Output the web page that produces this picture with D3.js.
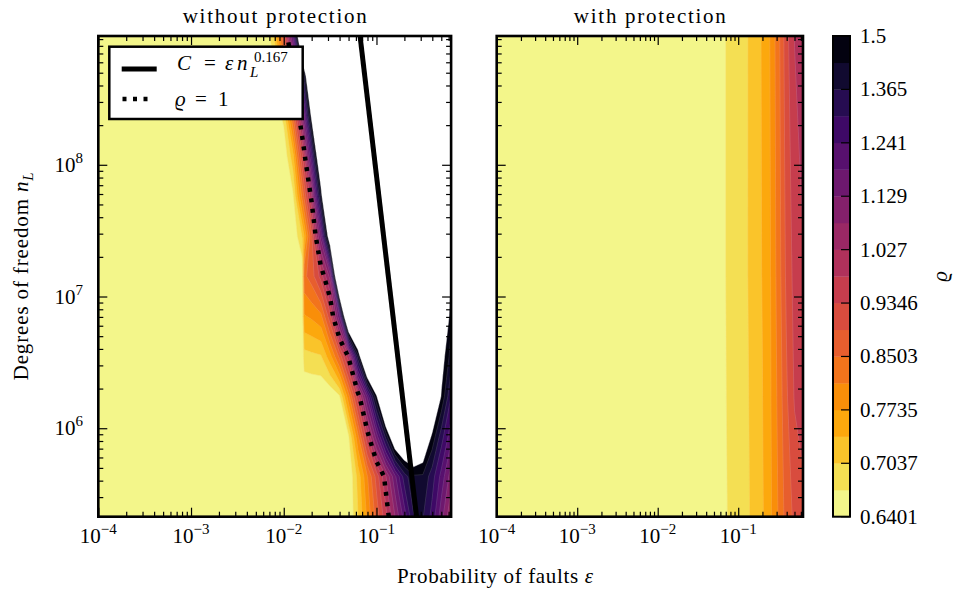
<!DOCTYPE html>
<html>
<head>
<meta charset="utf-8">
<script src="https://cdn.jsdelivr.net/npm/d3@7"></script>
<style>
  body { margin: 0; background: #fff; }
  text { font-family: "Liberation Serif", "DejaVu Serif", serif; fill: #000; }
</style>
</head>
<body>
<div id="canvas"></div>
<script>
"use strict"

/* Figure size */
let svgWidth = 953;
let svgHeight = 589;

/* Panel boxes in pixels */
let panelTop = 36;
let panelBottom = 516.7;
let leftPanel = { x0: 98.3, x1: 451.1 };
let rightPanel = { x0: 496.7, x1: 803.0 };
let cbBox = { x0: 833, x1: 850 };

/* Axis extents */
let epsExtent = [1e-4, 0.638];
let nLExtent = [2.13e5, 9.5e8];

/* Contour levels of rho (as on the colour bar) */
let rhoLevels = [0.6401, 0.6711, 0.7037, 0.7378, 0.7735, 0.8110, 0.8503, 0.8915, 0.9346,
    0.9800, 1.027, 1.0773, 1.129, 1.1842, 1.241, 1.3018, 1.365, 1.4310, 1.5];
let cbTickLabels = ["0.6401", "0.7037", "0.7735", "0.8503", "0.9346",
    "1.027", "1.129", "1.241", "1.365", "1.5"];

/* Without protection: sampled grid (columns = eps, rows = nL) */
let epsLeft = [0.0001, 0.005012, 0.00631, 0.007943, 0.01, 0.01259, 0.01585, 0.0166,
    0.01995, 0.02512, 0.03162, 0.03981, 0.05012, 0.0631, 0.07943, 0.1, 0.1259, 0.1585,
    0.1995, 0.2512, 0.3162, 0.3981, 0.5012, 0.638];
let nLLeft = [2.13e5, 4.30e5, 8.65e5, 1.74e6, 3.51e6, 7.08e6, 1.425e7, 2.87e7, 5.78e7,
    1.165e8, 2.35e8, 4.72e8, 9.5e8];
let rhoLeft = [
    [.6401, .6401, .6401, .6401, .6401, .6401, .6401, .6401, .6401, .6401, .6401, .6401, .6401, .702, .780, .866, .963, 1.077, 1.207, 1.36, 1.37, 1.28, 1.15, 1.03],
    [.6401, .6401, .6401, .6401, .6401, .6401, .6401, .6401, .6401, .6401, .6401, .6401, .6401, .715, .806, .907, 1.021, 1.17, 1.33, 1.42, 1.42, 1.33, 1.22, 1.10],
    [.6401, .6401, .6401, .6401, .6401, .6401, .6401, .6401, .6401, .6401, .6401, .6401, .668, .801, .965, 1.154, 1.381, 1.652, 1.75, 1.75, 1.65, 1.48, 1.33, 1.2],
    [.6401, .6401, .6401, .6401, .6401, .6401, .6401, .6401, .6401, .6401, .6401, .665, .797, .961, 1.187, 1.482, 1.85, 2.0, 2.0, 2.0, 2.0, 1.7, 1.49, 1.3],
    [.6401, .6401, .6401, .6401, .6401, .6401, .6401, .69, .695, .70, .76, .86, 1.01, 1.40, 1.85, 2.0, 2.0, 2.0, 2.0, 2.0, 2.0, 1.9, 1.55, 1.4],
    [.6401, .6401, .6401, .6401, .6401, .6401, .6401, .77, .78, .80, .92, 1.17, 1.82, 2.0, 2.0, 2.0, 2.0, 2.0, 2.0, 2.0, 2.0, 2.0, 1.7, 1.45],
    [.6401, .6401, .6401, .6401, .6401, .6401, .6401, .84, .87, .95, 1.095, 1.85, 2.0, 2.0, 2.0, 2.0, 2.0, 2.0, 2.0, 2.0, 2.0, 2.0, 1.9, 1.49],
    [.6401, .6401, .6401, .6401, .6401, .6401, .7066, .739, .879, 1.15, 1.62, 2.0, 2.0, 2.0, 2.0, 2.0, 2.0, 2.0, 2.0, 2.0, 2.0, 2.0, 2.0, 1.515],
    [.6401, .6401, .6401, .6401, .6401, .665, .823, .858, 1.018, 1.435, 2.0, 2.0, 2.0, 2.0, 2.0, 2.0, 2.0, 2.0, 2.0, 2.0, 2.0, 2.0, 2.0, 1.8],
    [.6401, .6401, .6401, .6401, .6401, .727, .926, .974, 1.246, 1.706, 2.0, 2.0, 2.0, 2.0, 2.0, 2.0, 2.0, 2.0, 2.0, 2.0, 2.0, 2.0, 2.0, 1.8],
    [.6401, .6401, .6401, .6401, .682, .848, 1.084, 1.163, 1.528, 2.0, 2.0, 2.0, 2.0, 2.0, 2.0, 2.0, 2.0, 2.0, 2.0, 2.0, 2.0, 2.0, 2.0, 1.7],
    [.6401, .6401, .6401, .6401, .767, .954, 1.304, 1.398, 1.84, 2.0, 2.0, 2.0, 2.0, 2.0, 2.0, 2.0, 2.0, 2.0, 2.0, 2.0, 2.0, 2.0, 1.9, 1.6],
    [.6401, .6401, .6401, .7116, .883, 1.197, 1.813, 1.97, 2.0, 2.0, 2.0, 2.0, 2.0, 2.0, 2.0, 2.0, 2.0, 2.0, 2.0, 2.0, 2.0, 2.0, 1.8, 1.45]
];

/* With protection: sampled grid */
let epsRight = [0.0001, 0.0501, 0.0631, 0.0794, 0.1, 0.1259, 0.1585, 0.1995, 0.2512,
    0.3162, 0.3981, 0.5012, 0.638];
let nLRight = [2.13e5, 1.74e6, 1.425e7, 9.5e8];
let rhoRight = [
    [.6401, .645, .662, .6759, .6867, .6974, .7124, .7336, .7664, .8141, .8676, .9014, .92],
    [.6401, .645, .664, .6775, .688, .6986, .715, .7365, .770, .8216, .8849, .9392, .955],
    [.6401, .645, .665, .6786, .6893, .7005, .7172, .7396, .7724, .8291, .901, .9501, .978],
    [.6401, .645, .665, .6786, .6893, .7000, .7182, .7415, .7761, .8369, .9183, .9815, .99]
];

/* Scaling law  C = eps * nL^0.167 */
let lawC = 2.1;
let lawExp = 0.167;

/* Tick powers */
let xTickPowers = [-4, -3, -2, -1];
let yTickPowers = [6, 7, 8];

/* Create the drawing canvas */
let svg = d3.select("#canvas")
    .append("svg")
    .attr("width", svgWidth)
    .attr("height", svgHeight);

let nBands = rhoLevels.length - 1;
function bandColor(i) {
    return d3.interpolateInferno(1 - (i + 0.5) / nBands);
}

function isMajor(d) {
    let l = Math.log10(d);
    return Math.abs(l - Math.round(l)) < 1e-9;
}

function addPow(text, p, supSize, rise) {
    text.append("tspan").text("10");
    text.append("tspan")
        .attr("dy", -rise)
        .style("font-size", supSize + "px")
        .text(p < 0 ? "\u2212" + Math.abs(p) : String(p));
}

/* Draw a filled contour panel, return its scales */
function drawPanel(panel, eps, nL, rho, id) {
    let x = d3.scaleLog().domain(epsExtent).range([panel.x0, panel.x1]);
    let y = d3.scaleLog().domain(nLExtent).range([panelBottom, panelTop]);
    let nc = eps.length;
    let nr = nL.length;

    // grid index -> pixel, piecewise between sampled nodes
    let colPx = d3.scaleLinear().domain(d3.range(nc)).range(eps.map(d => x(d))).clamp(true);
    let rowPx = d3.scaleLinear().domain(d3.range(nr)).range(nL.map(d => y(d))).clamp(true);

    let path = d3.geoPath(d3.geoTransform({
        point: function (gx, gy) {
            this.stream.point(colPx(gx - 0.5), rowPx(gy - 0.5));
        }
    }));

    svg.append("clipPath").attr("id", id)
        .append("rect")
        .attr("x", panel.x0).attr("y", panelTop)
        .attr("width", panel.x1 - panel.x0)
        .attr("height", panelBottom - panelTop);

    let g = svg.append("g").attr("clip-path", "url(#" + id + ")");

    let contours = d3.contours()
        .size([nc, nr])
        .thresholds(rhoLevels)(rho.flat());

    g.selectAll("path.band")
        .data(contours)
        .join("path")
        .attr("class", "band")
        .attr("d", path)
        .attr("fill", (d, i) => i < nBands ? bandColor(i) : "#fff")
        .attr("stroke", (d, i) => i < nBands ? bandColor(i) : "#fff")
        .attr("stroke-width", 0.4);

    // faint seams between the filled bands
    g.selectAll("path.seam")
        .data(contours.slice(1, nBands))
        .join("path")
        .attr("class", "seam")
        .attr("d", path)
        .attr("fill", "none")
        .attr("stroke", "#fff")
        .attr("stroke-opacity", 0.22)
        .attr("stroke-width", 0.6);

    return { x: x, y: y, g: g, nc: nc, nr: nr, colPx: colPx, rowPx: rowPx };
}

/* Contour line without the parts that run along the frame */
function isoPath(geom, p) {
    let d = "";
    geom.coordinates.forEach(function (polygon) {
        polygon.forEach(function (ring) {
            let pts = ring.map(function (q) {
                return [Math.max(0, Math.min(p.nc - 1, q[0] - 0.5)),
                        Math.max(0, Math.min(p.nr - 1, q[1] - 0.5))];
            });
            let open = false;
            for (let i = 0; i < pts.length - 1; i++) {
                let a = pts[i], b = pts[i + 1];
                let border = (a[0] === 0 && b[0] === 0) || (a[0] === p.nc - 1 && b[0] === p.nc - 1) ||
                    (a[1] === 0 && b[1] === 0) || (a[1] === p.nr - 1 && b[1] === p.nr - 1);
                if (border) { open = false; continue; }
                if (!open) {
                    d += "M" + p.colPx(a[0]) + "," + p.rowPx(a[1]);
                    open = true;
                }
                d += "L" + p.colPx(b[0]) + "," + p.rowPx(b[1]);
            }
        });
    });
    return d;
}

/* Ticks on all four sides, pointing inward */
function drawFrame(panel, p) {
    let xMajor = p.x.ticks().filter(isMajor);
    let xMinor = p.x.ticks().filter(d => !isMajor(d));
    let yMajor = p.y.ticks().filter(isMajor);
    let yMinor = p.y.ticks().filter(d => !isMajor(d));

    let axes = [
        [d3.axisBottom(p.x), "translate(0," + panelBottom + ")", xMajor, xMinor],
        [d3.axisTop(p.x), "translate(0," + panelTop + ")", xMajor, xMinor],
        [d3.axisLeft(p.y), "translate(" + panel.x0 + ",0)", yMajor, yMinor],
        [d3.axisRight(p.y), "translate(" + panel.x1 + ",0)", yMajor, yMinor]
    ];
    axes.forEach(function (a) {
        [[a[2], -9], [a[3], -5]].forEach(function (set) {
            svg.append("g")
                .attr("transform", a[1])
                .call(a[0].tickValues(set[0]).tickSize(set[1]).tickFormat(""))
                .call(s => s.select(".domain").remove())
                .selectAll("line")
                .attr("stroke", "#000")
                .attr("stroke-width", 1.2);
        });
    });

    svg.append("rect")
        .attr("x", panel.x0).attr("y", panelTop)
        .attr("width", panel.x1 - panel.x0)
        .attr("height", panelBottom - panelTop)
        .attr("fill", "none")
        .attr("stroke", "#000")
        .attr("stroke-width", 2.6);

    // x tick labels
    xTickPowers.forEach(function (pw) {
        let t = svg.append("text")
            .attr("x", p.x(Math.pow(10, pw)))
            .attr("y", 543)
            .attr("text-anchor", "middle")
            .style("font-size", "21px");
        addPow(t, pw, 15, 9);
    });
}

/**** without protection ****/
let pL = drawPanel(leftPanel, epsLeft, nLLeft, rhoLeft, "clipL");

// scaling law line
let lawPts = nLExtent.map(n => [lawC / Math.pow(n, lawExp), n]);
pL.g.append("path")
    .attr("d", d3.line().x(d => pL.x(d[0])).y(d => pL.y(d[1]))(lawPts))
    .attr("fill", "none")
    .attr("stroke", "#000")
    .attr("stroke-width", 5);

// rho = 1 contour, dotted
let rhoOne = d3.contours().size([pL.nc, pL.nr]).thresholds([1])(rhoLeft.flat())[0];
pL.g.append("path")
    .attr("d", isoPath(rhoOne, pL))
    .attr("fill", "none")
    .attr("stroke", "#000")
    .attr("stroke-width", 4.5)
    .attr("stroke-dasharray", "4,6.5");

drawFrame(leftPanel, pL);

/**** with protection ****/
let pR = drawPanel(rightPanel, epsRight, nLRight, rhoRight, "clipR");
drawFrame(rightPanel, pR);

/**** y tick labels (left panel only) ****/
yTickPowers.forEach(function (pw) {
    let t = svg.append("text")
        .attr("x", 83)
        .attr("y", pL.y(Math.pow(10, pw)) + 7)
        .attr("text-anchor", "end")
        .style("font-size", "21px");
    addPow(t, pw, 15, 9);
});

/**** legend ****/
let lg = svg.append("g");
lg.append("rect")
    .attr("x", 109.3).attr("y", 46.7)
    .attr("width", 193.4).attr("height", 72.3)
    .attr("fill", "#fff")
    .attr("stroke", "#000")
    .attr("stroke-width", 2.5);
lg.append("line")
    .attr("x1", 121.7).attr("x2", 156.7)
    .attr("y1", 69).attr("y2", 69)
    .attr("stroke", "#000").attr("stroke-width", 5);
lg.append("line")
    .attr("x1", 122.5).attr("x2", 150)
    .attr("y1", 99).attr("y2", 99)
    .attr("stroke", "#000").attr("stroke-width", 4.5)
    .attr("stroke-dasharray", "4,6.5");

let lt1 = lg.append("text").attr("y", 70).style("font-size", "21px");
lt1.append("tspan").attr("x", 177).style("font-style", "italic").text("C");
lt1.append("tspan").attr("x", 204).text("=");
lt1.append("tspan").attr("x", 225).style("font-style", "italic").text("\u03b5");
lt1.append("tspan").attr("x", 237).style("font-style", "italic").text("n");
lt1.append("tspan").attr("x", 250).attr("y", 77).style("font-size", "15px").style("font-style", "italic").text("L");
lt1.append("tspan").attr("x", 254).attr("y", 62).style("font-size", "15px").text("0.167");

let lt2 = lg.append("text").attr("y", 106).style("font-size", "21px");
lt2.append("tspan").attr("x", 175).style("font-style", "italic").text("\u03f1");
lt2.append("tspan").attr("x", 195).text("=");
lt2.append("tspan").attr("x", 218).text("1");

/**** colour bar ****/
let cbY = d3.scaleLinear().domain([0, nBands]).range([panelBottom, panelTop]);
svg.selectAll("rect.cb")
    .data(d3.range(nBands))
    .join("rect")
    .attr("class", "cb")
    .attr("x", cbBox.x0)
    .attr("y", d => cbY(d + 1))
    .attr("width", cbBox.x1 - cbBox.x0)
    .attr("height", d => cbY(d) - cbY(d + 1) + 0.3)
    .attr("fill", d => bandColor(d));
svg.append("rect")
    .attr("x", cbBox.x0).attr("y", panelTop)
    .attr("width", cbBox.x1 - cbBox.x0)
    .attr("height", panelBottom - panelTop)
    .attr("fill", "none")
    .attr("stroke", "#000")
    .attr("stroke-width", 2);
cbTickLabels.forEach(function (lab, i) {
    let yy = cbY(i * 2);
    svg.append("line")
        .attr("x1", cbBox.x1 - 9).attr("x2", cbBox.x1)
        .attr("y1", yy).attr("y2", yy)
        .attr("stroke", "#000").attr("stroke-width", 1.2);
    svg.append("text")
        .attr("x", 860)
        .attr("y", yy + 7)
        .style("font-size", "21px")
        .text(lab);
});
svg.append("text")
    .attr("transform", "translate(947," + (panelTop + panelBottom) / 2 + ") rotate(-90)")
    .attr("text-anchor", "middle")
    .style("font-size", "21px")
    .style("font-style", "italic")
    .text("\u03f1");

/**** titles and axis labels ****/
svg.append("text")
    .attr("x", (leftPanel.x0 + leftPanel.x1) / 2)
    .attr("y", 23)
    .attr("text-anchor", "middle")
    .attr("textLength", 184)
    .style("font-size", "21px")
    .text("without protection");
svg.append("text")
    .attr("x", (rightPanel.x0 + rightPanel.x1) / 2)
    .attr("y", 23)
    .attr("text-anchor", "middle")
    .attr("textLength", 152)
    .style("font-size", "21px")
    .text("with protection");

let xl = svg.append("text")
    .attr("x", 495)
    .attr("y", 583)
    .attr("text-anchor", "middle")
    .attr("textLength", 196)
    .style("font-size", "21px");
xl.append("tspan").text("Probability of faults ");
xl.append("tspan").style("font-style", "italic").text("\u03b5");

let yl = svg.append("text")
    .attr("transform", "translate(28," + (panelTop + panelBottom) / 2 + ") rotate(-90)")
    .attr("text-anchor", "middle")
    .attr("textLength", 208)
    .style("font-size", "21px");
yl.append("tspan").text("Degrees of freedom ");
yl.append("tspan").style("font-style", "italic").text("n");
yl.append("tspan").attr("dy", 5).style("font-size", "15px").style("font-style", "italic").text("L");
</script>
</body>
</html>
